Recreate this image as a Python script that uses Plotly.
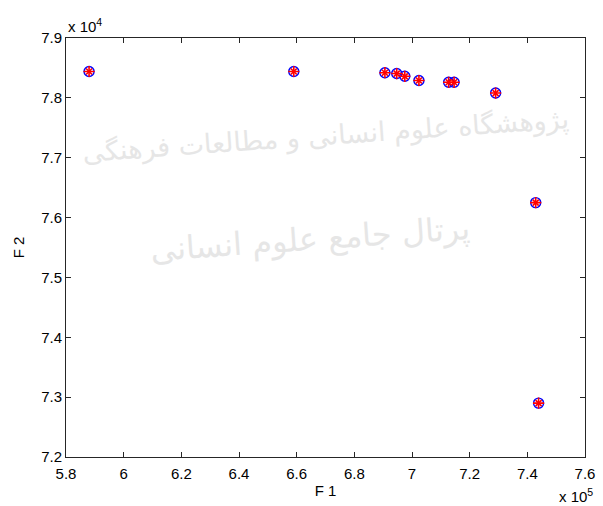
import plotly.graph_objects as go

# Objective values of the non-dominated solutions
f1 = [588000, 659000, 690600, 694700, 697500, 702400, 712700, 714600, 729000, 742900, 743900]
f2 = [78440, 78440, 78420, 78406, 78360, 78290, 78260, 78260, 78080, 76250, 72900]

x_ticks = [5.8, 6.0, 6.2, 6.4, 6.6, 6.8, 7.0, 7.2, 7.4, 7.6]
x_tick_text = ["5.8", "6", "6.2", "6.4", "6.6", "6.8", "7", "7.2", "7.4", "7.6"]
y_ticks = [7.2, 7.3, 7.4, 7.5, 7.6, 7.7, 7.8, 7.9]
y_tick_text = ["7.2", "7.3", "7.4", "7.5", "7.6", "7.7", "7.8", "7.9"]

x_scale = 1e5
y_scale = 1e4
xs = [v / x_scale for v in f1]
ys = [v / y_scale for v in f2]

FONT = "Liberation Sans, Arial, sans-serif"

fig = go.Figure()
fig.add_trace(go.Scatter(
    x=xs, y=ys, mode="markers",
    marker=dict(symbol="circle-open", size=10, color="#0000ff", line=dict(width=1.4, color="#0000ff")),
    hoverinfo="skip", showlegend=False,
))
fig.add_trace(go.Scatter(
    x=xs, y=ys, mode="markers",
    marker=dict(symbol="cross-thin-open", size=8, color="#ff0000", line=dict(width=1.6, color="#ff0000")),
    hoverinfo="skip", showlegend=False,
))
fig.add_trace(go.Scatter(
    x=xs, y=ys, mode="markers",
    marker=dict(symbol="x-thin-open", size=6, color="#ff0000", line=dict(width=1.6, color="#ff0000")),
    hoverinfo="skip", showlegend=False,
))

# faint background watermark
fig.add_annotation(
    text="پژوهشگاه علوم انسانی و مطالعات فرهنگی",
    xref="paper", yref="paper", x=0.5, y=0.85, showarrow=False, textangle=-4,
    font=dict(family="DejaVu Sans", size=27, color="#e6e6e6"),
)
fig.add_annotation(
    text="پرتال جامع علوم انسانی",
    xref="paper", yref="paper", x=0.47, y=0.52, showarrow=False, textangle=-4,
    font=dict(family="DejaVu Sans", size=32, color="#e6e6e6"),
)

# axis multipliers
fig.add_annotation(
    text="x 10<sup>4</sup>", xref="paper", yref="paper", x=0, y=1,
    xanchor="left", yanchor="bottom", yshift=1, showarrow=False,
    font=dict(family=FONT, size=15, color="#000000"),
)
fig.add_annotation(
    text="x 10<sup>5</sup>", xref="paper", yref="paper", x=1, y=-0.12,
    xanchor="right", yanchor="bottom", xshift=10, showarrow=False,
    font=dict(family=FONT, size=15, color="#000000"),
)

axis_common = dict(
    showline=True, linecolor="#262626", linewidth=1, mirror="ticks",
    ticks="inside", ticklen=5, tickcolor="#262626", tickwidth=1,
    showgrid=False, zeroline=False,
    tickfont=dict(family=FONT, size=15, color="#000000"),
    ticklabeloverflow="allow",
)

fig.update_xaxes(
    range=[5.8, 7.6], tickvals=x_ticks, ticktext=x_tick_text, ticklabelstandoff=3,
    title=dict(text="F 1", standoff=4, font=dict(family=FONT, size=15, color="#000000")),
    **axis_common,
)
fig.update_yaxes(
    range=[7.2, 7.9], tickvals=y_ticks, ticktext=y_tick_text,
    title=dict(text="F 2", standoff=12, font=dict(family=FONT, size=15, color="#000000")),
    **axis_common,
)

fig.update_layout(
    width=603, height=506,
    margin=dict(l=66, r=8, t=38, b=49),
    paper_bgcolor="#ffffff", plot_bgcolor="#ffffff",
    showlegend=False,
)

fig.write_html("out.html")
